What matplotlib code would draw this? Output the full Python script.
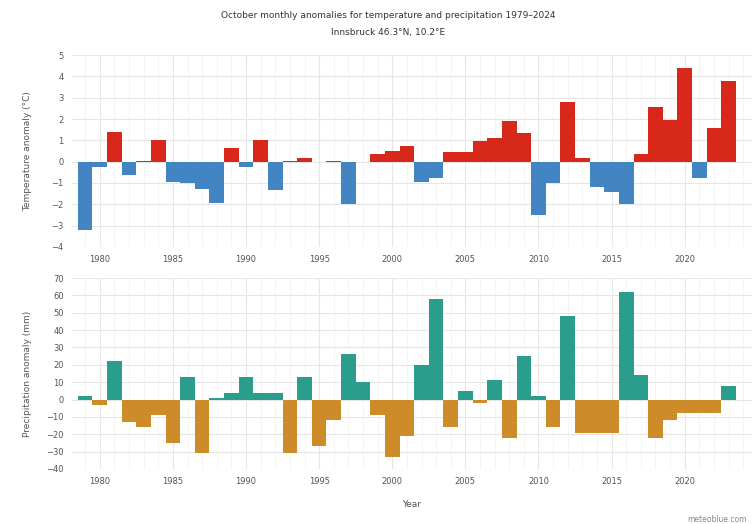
import matplotlib.pyplot as plt
import numpy as np

# October anomalies per year
years = np.arange(1979, 2024)

temp_anom = [-3.2, -0.25, 1.38, -0.62, 0.05, 1.0, -0.93, -1.0, -1.29, -1.95,
             0.62, -0.25, 1.0, -1.33, 0.02, 0.15, -0.03, 0.05, -2.0, 0.0,
             0.34, 0.5, 0.72, -0.93, -0.78, 0.47, 0.47, 0.96, 1.09, 1.9,
             1.36, -2.5, -1.0, 2.79, 0.15, -1.19, -1.43, -2.0, 0.36, 2.56,
             1.94, 4.37, -0.78, 1.58, 3.8]

prec_anom = [2, -3, 22, -13, -16, -9, -25, 13, -31, 1,
             4, 13, 4, 4, -31, 13, -27, -12, 26, 10,
             -9, -33, -21, 20, 58, -16, 5, -2, 11, -22,
             25, 2, -16, 48, -19, -19, -19, 62, 14, -22,
             -12, -8, -8, -8, 8]

temp_anom = np.array(temp_anom)
prec_anom = np.array(prec_anom)

red = '#d8281a'
blue = '#4285c2'
green = '#2a9d8c'
brown = '#cd8b2a'
grid_c = '#e6e6e6'
text_c = '#555555'

fig = plt.figure(figsize=(7.54, 5.24), dpi=100)
ax1 = fig.add_axes([72/754, 1-247/524, 680/754, 192/524])
ax2 = fig.add_axes([72/754, 1-469/524, 680/754, 191/524])

ax1.bar(years, temp_anom, width=1.0,
        color=np.where(temp_anom >= 0, red, blue), zorder=3)
ax2.bar(years, prec_anom, width=1.0,
        color=np.where(prec_anom >= 0, green, brown), zorder=3)

ax1.set_ylim(-4, 5)
ax1.set_yticks(np.arange(-4, 6, 1))
ax2.set_ylim(-40, 70)
ax2.set_yticks(np.arange(-40, 80, 10))

for ax in (ax1, ax2):
    ax.set_xlim(1978.1, 2024.6)
    ax.set_xticks(np.arange(1980, 2021, 5))
    ax.set_xticks(np.arange(1979, 2025, 1), minor=True)
    ax.grid(True, which='major', color=grid_c, linewidth=0.8, zorder=0)
    ax.grid(True, which='minor', axis='x', color='#f2f2f2', linewidth=0.6, zorder=0)
    ax.tick_params(which='both', length=0, labelsize=6, colors=text_c, pad=6)
    for s in ax.spines.values():
        s.set_visible(False)

ax1.set_ylabel('Temperature anomaly (°C)', fontsize=6.5, color=text_c, labelpad=14)
ax2.set_ylabel('Precipitation anomaly (mm)', fontsize=6.5, color=text_c, labelpad=10)
ax2.set_xlabel('Year', fontsize=6.5, color=text_c, labelpad=10)

fig.text(388/754, 1-15/524, 'October monthly anomalies for temperature and precipitation 1979–2024',
         ha='center', va='center', fontsize=6.5, color='#333333')
fig.text(388/754, 1-33/524, 'Innsbruck 46.3°N, 10.2°E',
         ha='center', va='center', fontsize=6.5, color='#333333')
fig.text(747/754, 1-519/524, 'meteoblue.com', ha='right', va='center',
         fontsize=5.5, color='#888888')

fig.savefig('out.png', dpi=100)
